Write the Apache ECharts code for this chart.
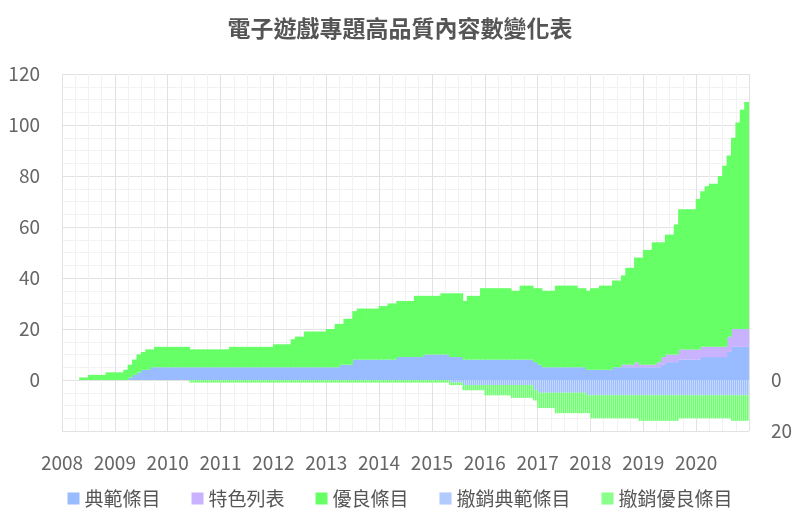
<!DOCTYPE html>
<html><head><meta charset="utf-8">
<script src="https://cdn.jsdelivr.net/npm/echarts@6/dist/echarts.min.js"></script>
<style>html,body{margin:0;padding:0;background:#fff}#c{width:800px;height:523px}</style>
</head><body><div id="c"></div>
<script>
// Monthly values, Jan 2008 .. Dec 2020 (12 per row, one row per year)
const startYear = 2008;
const yearTicks = [2008,2009,2010,2011,2012,2013,2014,2015,2016,2017,2018,2019,2020];
const seriesNames = ['典範條目','特色列表','優良條目','撤銷典範條目','撤銷優良條目'];

const featuredArticles = [
  0,0,0,0,0,0,0,0,0,0,0,0,
  0,0,0,1,2,3,4,4,5,5,5,5,
  5,5,5,5,5,5,5,5,5,5,5,5,
  5,5,5,5,5,5,5,5,5,5,5,5,
  5,5,5,5,5,5,5,5,5,5,5,5,
  5,5,5,6,6,6,8,8,8,8,8,8,
  8,8,8,8,9,9,9,9,9,9,10,10,
  10,10,10,10,9,9,9,8,8,8,8,8,
  8,8,8,8,8,8,8,8,8,8,8,7,
  6,5,5,5,5,5,5,5,5,5,5,4,
  4,4,4,4,4,5,5,5,5,5,5,5,
  5,5,5,5,6,7,7,7,8,8,8,8,
  8,9,9,9,9,9,9,11,13,13,13,13
];
const featuredLists = [
  0,0,0,0,0,0,0,0,0,0,0,0,
  0,0,0,0,0,0,0,0,0,0,0,0,
  0,0,0,0,0,0,0,0,0,0,0,0,
  0,0,0,0,0,0,0,0,0,0,0,0,
  0,0,0,0,0,0,0,0,0,0,0,0,
  0,0,0,0,0,0,0,0,0,0,0,0,
  0,0,0,0,0,0,0,0,0,0,0,0,
  0,0,0,0,0,0,0,0,0,0,0,0,
  0,0,0,0,0,0,0,0,0,0,0,0,
  0,0,0,0,0,0,0,0,0,0,0,0,
  0,0,0,0,0,0,0,1,1,1,2,1,
  1,1,1,2,3,3,3,3,4,4,4,4,
  4,4,4,4,4,4,4,6,7,7,7,7
];
const goodArticles = [
  0,0,0,0,1,1,2,2,2,2,3,3,
  3,3,4,5,6,7,7,8,7,8,8,8,
  8,8,8,8,8,7,7,7,7,7,7,7,
  7,7,8,8,8,8,8,8,8,8,8,8,
  9,9,9,9,11,12,12,14,14,14,14,14,
  15,15,17,16,18,18,19,20,20,20,20,20,
  21,21,22,22,22,22,22,22,24,24,23,23,
  23,23,24,24,25,25,25,23,25,25,25,28,
  28,28,28,28,28,28,27,27,29,29,29,29,
  30,30,30,30,32,32,32,32,32,31,31,31,
  32,32,33,33,33,34,34,35,38,38,41,42,
  45,45,48,47,45,47,47,51,55,55,55,55,
  59,61,63,64,64,67,71,71,75,81,86,89
];
const delistedFA = [
  0,0,0,0,0,0,0,0,0,0,0,0,
  0,0,0,0,0,0,0,0,0,0,0,0,
  0,0,0,0,0,0,0,0,0,0,0,0,
  0,0,0,0,0,0,0,0,0,0,0,0,
  0,0,0,0,0,0,0,0,0,0,0,0,
  0,0,0,0,0,0,0,0,0,0,0,0,
  0,0,0,0,0,0,0,0,0,0,0,0,
  0,0,0,0,1,1,1,2,2,2,2,2,
  2,2,2,2,2,2,2,2,2,2,2,4,
  5,5,5,5,5,5,5,5,5,5,5,6,
  6,6,6,6,6,6,6,6,6,6,6,6,
  6,6,6,6,6,6,6,6,6,6,6,6,
  6,6,6,6,6,6,6,6,6,6,6,6
];
const delistedGA = [
  0,0,0,0,0,0,0,0,0,0,0,0,
  0,0,0,0,0,0,0,0,0,0,0,0,
  0,0,0,0,0,1,1,1,1,1,1,1,
  1,1,1,1,1,1,1,1,1,1,1,1,
  1,1,1,1,1,1,1,1,1,1,1,1,
  1,1,1,1,1,1,1,1,1,1,1,1,
  1,1,1,1,1,1,1,1,1,1,1,1,
  1,1,1,1,1,1,1,2,2,2,2,2,
  4,4,4,4,4,4,5,5,5,5,5,4,
  6,6,6,6,8,8,8,8,8,8,8,7,
  9,9,9,9,9,9,9,9,9,9,9,10,
  10,10,10,10,10,10,10,10,9,9,9,9,
  9,9,9,9,9,9,9,9,10,10,10,10
];

const months = featuredArticles.map((_, i) => (startYear + Math.floor(i / 12)) + '-' + (i % 12 + 1));
const neg = arr => arr.map(v => -v);

const FONT = '"Noto Sans CJK TC", "Noto Sans", sans-serif';
const hatch = {symbol: 'rect', symbolSize: 1, color: 'rgba(255,255,255,0.38)', dashArrayX: [1, 1], dashArrayY: [4, 0], rotation: 0};

const chart = echarts.init(document.getElementById('c'), null, {renderer: 'canvas'});
const mk = (name, data, color, decal) => ({
  name, type: 'bar', stack: 'all', xAxisIndex: 0, yAxisIndex: 0,
  barWidth: '118%', barGap: '-100%',
  itemStyle: decal ? {color, decal} : {color},
  data
});
const lab = {margin: 22, fontSize: 19, color: '#666', fontFamily: FONT};
chart.setOption({
  animation: false,
  textStyle: {fontFamily: FONT},
  title: {text: '電子遊戲專題高品質內容數變化表', left: 'center', top: 12,
    textStyle: {fontSize: 23, fontWeight: 'bold', color: '#555', fontFamily: FONT}},
  legend: {bottom: 10, left: 'center', itemWidth: 12, itemHeight: 12, itemGap: 31,
    icon: 'rect', textStyle: {fontSize: 19, color: '#555', fontFamily: FONT},
    data: seriesNames},
  grid: {left: 62, right: 51, top: 74, bottom: 92, containLabel: false},
  xAxis: [
    {type: 'category', data: months, show: false, boundaryGap: true},
    {type: 'value', min: yearTicks[0], max: yearTicks[yearTicks.length - 1] + 1, interval: 1,
      position: 'bottom',
      axisLine: {show: false}, axisTick: {show: false},
      axisLabel: Object.assign({}, lab, {formatter: v => yearTicks.indexOf(v) >= 0 ? String(v) : ''}),
      splitLine: {show: true, lineStyle: {color: '#e2e2e2'}},
      minorTick: {show: false, splitNumber: 4},
      minorSplitLine: {show: true, lineStyle: {color: '#f2f2f2'}}}
  ],
  yAxis: [
    {type: 'value', min: -20, max: 120, interval: 20,
      axisLine: {show: false}, axisTick: {show: false},
      axisLabel: Object.assign({}, lab, {formatter: v => v < 0 ? '' : String(v)}),
      splitLine: {show: true, lineStyle: {color: '#e2e2e2'}},
      minorTick: {show: false, splitNumber: 4},
      minorSplitLine: {show: true, lineStyle: {color: '#f2f2f2'}}},
    {type: 'value', inverse: true, min: -120, max: 20, interval: 20, position: 'right',
      axisLine: {show: false}, axisTick: {show: false}, splitLine: {show: false},
      axisLabel: Object.assign({}, lab, {formatter: v => v < 0 ? '' : String(v)})}
  ],
  series: [
    mk(seriesNames[0], featuredArticles, '#99bbff'),
    mk(seriesNames[1], featuredLists, '#c9b3ff'),
    mk(seriesNames[2], goodArticles, '#66ff66'),
    mk(seriesNames[3], neg(delistedFA), '#9fbfff', hatch),
    mk(seriesNames[4], neg(delistedGA), '#70ff70', hatch)
  ]
});
</script></body></html>
